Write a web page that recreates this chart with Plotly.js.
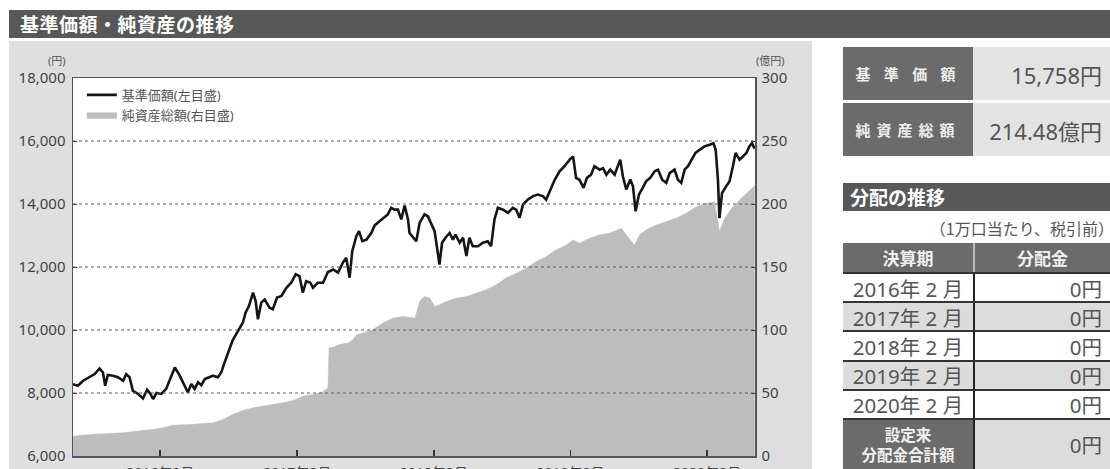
<!DOCTYPE html>
<html>
<head>
<meta charset="utf-8">
<script src="https://cdn.plot.ly/plotly-3.0.1.min.js"></script>
<style>
  html, body { margin:0; padding:0; width:1110px; height:469px; overflow:hidden; background:#ffffff;
    font-family:"Noto Sans","Noto Sans CJK JP",sans-serif; }
  .abs { position:absolute; box-sizing:border-box; }
  #header { left:9px; top:10px; width:1101px; height:28px; background:#585858; color:#fff;
    font-family:"Noto Sans CJK JP",sans-serif; font-weight:bold; font-size:19px; line-height:28px; padding-left:11px; letter-spacing:0.5px; }
  #panel { left:9px; top:41px; width:803px; height:428px; background:#dfdfdf; }
  #chart { left:9px; top:43px; width:803px; height:460px; }
  .info { left:843px; width:267px; height:53px; display:flex; }
  .info .lab { width:130px; background:#6b6b6b; color:#eeeeee; font-family:"Noto Sans CJK JP",sans-serif; font-weight:bold;
    font-size:15px; display:flex; align-items:center; justify-content:center; }
  .info .val { width:137px; background:#e3e3e3; color:#555; font-size:22px; display:flex; align-items:center;
    justify-content:flex-end; padding-right:8px; box-sizing:border-box; }
  #distbar { left:843px; top:183px; width:267px; height:28px; background:#585858; color:#fff;
    font-family:"Noto Sans CJK JP",sans-serif; font-weight:bold; font-size:19px; line-height:28px; padding-left:7px; }
  #distnote { left:896px; top:218px; width:218px; text-align:right; color:#555; font-size:16px;
    font-family:"Noto Sans CJK JP",sans-serif; line-height:20px; white-space:nowrap; }
  #dist { left:843px; top:243px; width:267px; }
  .row { display:flex; width:267px; box-sizing:border-box; }
  .row .c1 { width:130px; display:flex; align-items:center; justify-content:center; box-sizing:border-box; }
  .row .c2 { width:137px; display:flex; align-items:center; justify-content:flex-end; padding-right:8px; box-sizing:border-box; }
  .hdr .c1, .hdr .c2 { background:#6b6b6b; color:#f0f0f0; font-family:"Noto Sans CJK JP",sans-serif; font-weight:bold; font-size:17px; }
  .hdr .c2 { justify-content:center; padding-right:0; border-left:2px solid #bdbdbd; }
  .data { border-top:2px solid #333; color:#555; font-size:20.5px; }
  .data .c2 { border-left:2px solid #222; }
  .tot .c1 { background:#6b6b6b; color:#f0f0f0; font-family:"Noto Sans CJK JP",sans-serif; font-weight:bold; font-size:15.5px;
    line-height:20px; text-align:center; flex-direction:column; padding-bottom:4px; }
  .tot .c1 div { height:20px; line-height:20px; }
</style>
</head>
<body>
<div id="header" class="abs">基準価額・純資産の推移</div>
<div id="panel" class="abs"></div>
<div id="chart" class="abs"></div>
<div id="info1" class="abs info" style="top:47px"></div>
<div id="info2" class="abs info" style="top:103px"></div>
<div id="distbar" class="abs">分配の推移</div>
<div id="distnote" class="abs">（1万口当たり、税引前）</div>
<div id="dist" class="abs"></div>
<script>
// ---------- data ----------
const navDates = [
"2015-06-13","2015-06-26","2015-07-10","2015-07-28","2015-08-10","2015-08-23","2015-09-01","2015-09-07","2015-09-14","2015-09-28",
"2015-10-11","2015-10-25","2015-11-02","2015-11-11","2015-11-20","2015-12-04","2015-12-17","2015-12-28","2016-01-06","2016-01-13",
"2016-01-22","2016-02-04","2016-02-17","2016-03-02","2016-03-11","2016-03-22","2016-04-02","2016-04-15","2016-04-24","2016-05-03",
"2016-05-12","2016-05-21","2016-05-30","2016-06-12","2016-06-21","2016-07-04","2016-07-13","2016-07-22","2016-07-31","2016-08-12",
"2016-08-22","2016-08-31","2016-09-09","2016-09-16","2016-09-25","2016-10-06","2016-10-13","2016-10-19","2016-10-28","2016-11-06",
"2016-11-19","2016-11-28","2016-12-09","2016-12-21","2017-01-03","2017-01-16","2017-01-28","2017-02-07","2017-02-16","2017-02-25",
"2017-03-08","2017-03-15","2017-03-28","2017-04-11","2017-04-24","2017-05-08","2017-05-21","2017-06-03","2017-06-12","2017-06-21",
"2017-06-28","2017-07-09","2017-07-16","2017-07-25","2017-08-05","2017-08-18","2017-08-27","2017-09-09","2017-09-23","2017-10-01",
"2017-10-10","2017-10-19","2017-10-28","2017-11-06","2017-11-15","2017-11-24","2017-11-28","2017-12-09","2017-12-16","2017-12-25",
"2018-01-07","2018-01-16","2018-01-25","2018-02-03","2018-02-09","2018-02-16","2018-02-23","2018-03-04","2018-03-15","2018-03-24",
"2018-03-31","2018-04-11","2018-04-20","2018-04-29","2018-05-07","2018-05-16","2018-05-30","2018-06-12","2018-06-25","2018-07-04",
"2018-07-13","2018-07-22","2018-08-05","2018-08-18","2018-08-31","2018-09-09","2018-09-18","2018-09-27","2018-10-10","2018-10-24",
"2018-11-06","2018-11-19","2018-11-28","2018-12-07","2018-12-21","2019-01-03","2019-01-16","2019-01-30","2019-02-08","2019-02-16",
"2019-02-25","2019-03-08","2019-03-17","2019-03-28","2019-04-06","2019-04-20","2019-04-29","2019-05-08","2019-05-18","2019-05-30",
"2019-06-08","2019-06-14","2019-06-21","2019-06-30","2019-07-11","2019-07-18","2019-07-25","2019-08-03","2019-08-13","2019-08-22",
"2019-09-02","2019-09-14","2019-09-23","2019-10-04","2019-10-15","2019-10-24","2019-11-06","2019-11-15","2019-11-24","2019-12-03",
"2019-12-12","2019-12-21","2020-01-01","2020-01-12","2020-01-25","2020-02-08","2020-02-18","2020-02-24","2020-03-01","2020-03-05",
"2020-03-12","2020-03-23","2020-04-01","2020-04-10","2020-04-17","2020-04-28","2020-05-07","2020-05-16","2020-05-24","2020-05-31",
"2020-06-07"];
const navValues = [
8280,8230,8390,8500,8600,8780,8650,8230,8570,8550,
8500,8390,8600,8500,8070,7970,7830,8105,7970,7810,
8000,7970,8130,8550,8810,8600,8340,8020,8285,8130,
8340,8250,8440,8500,8550,8500,8650,8970,9290,9660,
9870,10080,10240,10550,10760,11190,10920,10340,10870,10970,
10710,10660,11030,11080,11340,11500,11770,11710,11190,11550,
11500,11340,11500,11500,11840,11920,11820,12140,12290,11660,
12500,12980,13140,12820,12870,13080,13320,13450,13610,13670,
13880,13820,13820,13510,13950,13510,13080,12930,12820,13400,
13670,13610,13400,13140,12660,12080,12770,12930,13080,12870,
13030,12770,12930,12350,12930,12660,12660,12770,12820,12660,
13510,13880,13820,13720,13880,13820,13560,13980,14140,14250,
14300,14250,14140,14400,14770,15040,15200,15410,15510,14830,
14770,14510,14830,14930,15200,15090,15140,14930,15090,14930,
15250,15410,14880,14460,14780,14560,13770,14300,14510,14720,
14830,15040,15090,14770,14670,14980,15090,14770,14670,15090,
15200,15410,15620,15720,15830,15880,15930,15720,14770,13550,
14350,14560,14720,15200,15620,15410,15510,15620,15830,15930,
15758];

const aumDates = [
"2015-06-13","2015-08-05","2015-10-25","2015-12-17","2016-01-31","2016-03-06","2016-04-29","2016-06-21","2016-07-18","2016-08-13",
"2016-09-09","2016-10-06","2016-11-02","2016-11-28","2016-12-25","2017-01-21","2017-02-16","2017-03-15","2017-04-11","2017-04-24",
"2017-04-27","2017-05-08","2017-05-25","2017-06-17","2017-06-30","2017-07-09","2017-07-27","2017-08-22","2017-09-18","2017-10-15",
"2017-11-10","2017-12-13","2017-12-25","2018-01-07","2018-01-21","2018-02-03","2018-02-16","2018-03-06","2018-04-02","2018-04-29",
"2018-05-25","2018-06-21","2018-07-18","2018-08-13","2018-09-09","2018-10-06","2018-11-02","2018-11-28","2018-12-25","2019-01-21",
"2019-02-08","2019-02-25","2019-03-24","2019-04-20","2019-05-16","2019-06-08","2019-06-17","2019-06-30","2019-07-22","2019-08-05",
"2019-08-22","2019-09-18","2019-10-15","2019-11-10","2019-12-07","2020-01-03","2020-01-30","2020-02-21","2020-03-01","2020-03-05",
"2020-03-19","2020-04-10","2020-04-28","2020-05-16","2020-06-07"];
const aumValues = [
15.8,17.2,18.5,20.3,21.9,24.5,25.1,26.4,29.0,33.0,
36.1,38.3,39.6,40.9,42.2,44.1,47.5,48.8,50.9,54.1,
85.8,86.3,88.4,89.7,92.3,96.3,97.6,100.3,105.5,109.5,
110.8,109.5,122.7,126.6,125.3,118.7,120.0,122.7,125.3,126.6,
129.3,131.9,135.9,141.2,145.1,149.1,154.4,158.3,163.6,167.5,
171.5,168.9,172.8,175.5,176.8,179.4,180.7,175.5,167.5,175.5,
179.4,183.4,186.0,188.7,192.6,197.9,200.5,201.8,186.0,178.1,
188.7,197.9,203.2,208.4,214.48];

const tickDates  = ["2016-02-01","2017-02-01","2018-02-01","2019-02-01","2020-02-01"];
const tickLabels = ["2016年2月","2017年2月","2018年2月","2019年2月","2020年2月"];
const leftTicks  = [6000,8000,10000,12000,14000,16000,18000];
const rightTicks = [0,50,100,150,200,250,300];
const xRange = ["2015-06-13","2020-06-08"];

const seriesNames = ["基準価額(左目盛)","純資産総額(右目盛)"];
const infoLabels = ["基 準 価 額","純資産総額"];
const infoValues = ["15,758円","214.48億円"];
const distHeader = ["決算期","分配金"];
const distPeriods = ["2016年 2 月","2017年 2 月","2018年 2 月","2019年 2 月","2020年 2 月"];
const distAmounts = ["0円","0円","0円","0円","0円"];
const distTotalLabel = ["設定来","分配金合計額"];
const distTotal = "0円";

// ---------- right panel ----------
const infoIds = ["info1","info2"];
infoIds.forEach((id,i)=>{
  const el = document.getElementById(id);
  const spacing = i===0 ? "5px" : "6px";
  el.innerHTML = '<div class="lab" style="letter-spacing:'+spacing+'">'+infoLabels[i]+'</div><div class="val">'+infoValues[i]+'</div>';
});
const dist = document.getElementById("dist");
let html = '<div class="row hdr" style="height:29px"><div class="c1">'+distHeader[0]+'</div><div class="c2">'+distHeader[1]+'</div></div>';
distPeriods.forEach((p,i)=>{
  const bg = (i%2===1) ? "#dcdcdc" : "#ffffff";
  html += '<div class="row data" style="height:29.2px;background:'+bg+'"><div class="c1">'+p+'</div><div class="c2">'+distAmounts[i]+'</div></div>';
});
html += '<div class="row data tot" style="height:54px;background:#dcdcdc"><div class="c1"><div>'+distTotalLabel[0]+'</div><div>'+distTotalLabel[1]+'</div></div><div class="c2" style="padding-bottom:4px">'+distTotal+'</div></div>';
dist.innerHTML = html;

// ---------- chart ----------
const FONT = '"Noto Sans","Noto Sans CJK JP",sans-serif';
const aumTrace = {
  x: aumDates, y: aumValues, yaxis: 'y', type: 'scatter', mode: 'lines',
  name: seriesNames[1], fill: 'tozeroy', fillcolor: '#bdbdbd',
  line: {color: '#bdbdbd', width: 0.5}
};
const navTrace = {
  x: navDates, y: navValues, yaxis: 'y2', type: 'scatter', mode: 'lines',
  name: seriesNames[0], line: {color: '#151515', width: 2.6}
};
const gridShapes = leftTicks.slice(1, -1).map(v => ({
  type: 'line', xref: 'paper', x0: 0, x1: 1, yref: 'y2', y0: v, y1: v,
  line: {color: '#5a5a5a', width: 1, dash: 'dot'}, layer: 'above'
}));
const layout = {
  width: 803, height: 460,
  margin: {l: 64, r: 57, t: 35, b: 47, pad: 0},
  paper_bgcolor: 'rgba(0,0,0,0)', plot_bgcolor: '#ffffff',
  font: {family: FONT, color: '#444'},
  showlegend: true,
  legend: {x: 0.013, y: 0.995, xanchor: 'left', yanchor: 'top', bgcolor: 'rgba(0,0,0,0)',
    traceorder: 'reversed', font: {size: 13, color: '#555', family: FONT}, itemwidth: 30, tracegroupgap: 0},
  xaxis: {type: 'date', range: xRange, tickvals: tickDates, ticktext: tickLabels,
    ticks: 'inside', ticklen: 6, tickwidth: 1.5, tickcolor: '#333', showgrid: false, zeroline: false,
    showline: true, mirror: true, linecolor: '#555', linewidth: 1.5, layer: 'above traces',
    tickfont: {size: 14, color: '#444'}, ticklabelstandoff: 4},
  yaxis: {range: [0, 300], tickvals: rightTicks, side: 'right', ticks: 'inside', ticklen: 4, tickcolor: '#333',
    showgrid: false, zeroline: false, showline: true, linecolor: '#555', linewidth: 1.5,
    tickfont: {size: 15, color: '#444'}, layer: 'above traces', ticklabelstandoff: 2},
  yaxis2: {range: [6000, 18000], tickvals: leftTicks, tickformat: ',d', side: 'left', overlaying: 'y',
    ticks: 'inside', ticklen: 4, tickcolor: '#333', showgrid: false, zeroline: false,
    showline: true, linecolor: '#555', linewidth: 1.5, tickfont: {size: 15, color: '#444'},
    layer: 'above traces', ticklabelstandoff: 3},
  shapes: gridShapes,
  annotations: [
    {text: '(円)', xref: 'paper', yref: 'paper', x: -0.024, y: 1.046, xanchor: 'center', yanchor: 'middle',
      showarrow: false, font: {size: 11, color: '#555', family: FONT}},
    {text: '(億円)', xref: 'paper', yref: 'paper', x: 1.023, y: 1.046, xanchor: 'center', yanchor: 'middle',
      showarrow: false, font: {size: 11, color: '#555', family: FONT}}
  ]
};
Plotly.newPlot('chart', [aumTrace, navTrace], layout, {displayModeBar: false, staticPlot: true});
</script>
</body>
</html>
